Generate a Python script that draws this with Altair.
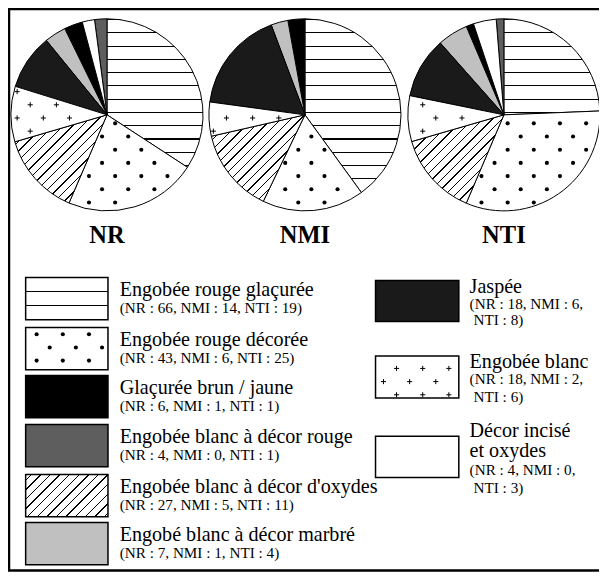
import math
import altair as alt
import pandas as pd

# ------------------------------------------------------------------ data
sites = ["NR", "NMI", "NTI"]
categories = [
    "Engobée rouge glaçurée",
    "Engobée rouge décorée",
    "Glaçurée brun / jaune",
    "Engobée blanc à décor rouge",
    "Engobée blanc à décor d'oxydes",
    "Engobé blanc à décor marbré",
    "Jaspée",
    "Engobée blanc",
    "Décor incisé et oxydes",
]
nr_counts = [66, 43, 6, 4, 27, 7, 18, 18, 4]
nmi_counts = [14, 6, 1, 0, 5, 1, 6, 2, 0]
nti_counts = [19, 25, 1, 1, 11, 4, 8, 6, 3]
# clockwise order of the slices, starting at 12 o'clock
pie_sequence = [
    "Engobée rouge glaçurée",
    "Engobée rouge décorée",
    "Engobée blanc à décor d'oxydes",
    "Engobée blanc",
    "Jaspée",
    "Engobé blanc à décor marbré",
    "Glaçurée brun / jaune",
    "Décor incisé et oxydes",
    "Engobée blanc à décor rouge",
]
left_legend = categories[:6]
right_legend = categories[6:]

counts = {"NR": nr_counts, "NMI": nmi_counts, "NTI": nti_counts}

# ------------------------------------------------------------------ styles
styles = {
    "Engobée rouge glaçurée": "hlines",
    "Engobée rouge décorée": "dots",
    "Glaçurée brun / jaune": "#000000",
    "Engobée blanc à décor rouge": "#5e5e5e",
    "Engobée blanc à décor d'oxydes": "hatch",
    "Engobé blanc à décor marbré": "#c0c0c0",
    "Jaspée": "#1a1a1a",
    "Engobée blanc": "crosses",
    "Décor incisé et oxydes": "#ffffff",
}

S = 0.98
W, H = 591, 565
FONT = "Liberation Serif"


def px(v):
    return (v - 5) * S + 1


def py(v):
    return (v - 5) * S + 1


LINE_Y0 = py(29.3)
LINE_DY = 13.55 * S
HATCH_D = 9.8 * S
LAT_HX = 13.35 * S
LAT_VY = 13.45 * S


def stops_from(ts, dt):
    stops = [{"offset": 0, "color": "white"}]
    last = 0.0
    for t in sorted(ts):
        a, b = t - dt / 2, t + dt / 2
        if b <= 0 or a >= 1:
            continue
        a = max(a, last)
        b = min(b, 1.0)
        if b <= a:
            continue
        stops += [
            {"offset": round(a, 5), "color": "white"},
            {"offset": round(a, 5), "color": "black"},
            {"offset": round(b, 5), "color": "black"},
            {"offset": round(b, 5), "color": "white"},
        ]
        last = b
    stops.append({"offset": 1, "color": "white"})
    return stops


def hline_grad(bb, line_ys=None, thick=1.1):
    x0, y0, x1, y1 = bb
    h = y1 - y0
    if line_ys is None:
        k0 = math.floor((y0 - LINE_Y0) / LINE_DY)
        k1 = math.ceil((y1 - LINE_Y0) / LINE_DY)
        line_ys = [LINE_Y0 + k * LINE_DY for k in range(k0, k1 + 1)]
    ts = [(ly - y0) / h for ly in line_ys]
    return {"gradient": "linear", "x1": 0, "y1": 0, "x2": 0, "y2": 1,
            "stops": stops_from(ts, thick / h)}


def hatch_grad(bb, thick=1.0):
    x0, y0, x1, y1 = bb
    w, h = x1 - x0, y1 - y0
    lam = (w + h) / (w * w + h * h)
    c0, c1 = x0 + y0, x1 + y1
    k0 = math.floor(c0 / HATCH_D)
    k1 = math.ceil(c1 / HATCH_D)
    ts = [(k * HATCH_D - c0) / (w + h) for k in range(k0, k1 + 1)]
    return {"gradient": "linear", "x1": 0, "y1": 0,
            "x2": round(lam * w, 5), "y2": round(lam * h, 5),
            "stops": stops_from(ts, thick * math.sqrt(2) / (w + h))}


def fill_for(style, bb, legend=False):
    if style == "hlines":
        if legend:
            y0, y1 = bb[1], bb[3]
            return hline_grad(bb, [y0 + (y1 - y0) / 3, y0 + 2 * (y1 - y0) / 3], 1.2)
        return hline_grad(bb)
    if style == "hatch":
        return hatch_grad(bb)
    if style in ("dots", "crosses"):
        return "white"
    return style


def slice_bbox(cx, cy, r, a0, a1):
    pts = [(cx, cy), (cx + r * math.sin(a0), cy - r * math.cos(a0)),
           (cx + r * math.sin(a1), cy - r * math.cos(a1))]
    for k in range(5):
        ang = k * math.pi / 2
        if a0 < ang < a1:
            pts.append((cx + r * math.sin(ang), cy - r * math.cos(ang)))
    xs = [p[0] for p in pts]
    ys = [p[1] for p in pts]
    return (min(xs), min(ys), max(xs), max(ys))


def lattice(ax, ay, x0, y0, x1, y1):
    pts = []
    k0 = math.floor((y0 - ay) / LAT_VY) - 1
    k1 = math.ceil((y1 - ay) / LAT_VY) + 1
    j0 = math.floor((x0 - ax) / LAT_HX) - 1
    j1 = math.ceil((x1 - ax) / LAT_HX) + 1
    for k in range(k0, k1 + 1):
        for j in range(j0, j1 + 1):
            if (j + k) % 2:
                continue
            pts.append((ax + j * LAT_HX, ay + k * LAT_VY))
    return pts


DOT_ANCHOR = (px(113.3), py(121.7))
CROSS_ANCHOR = (px(13.3), py(89.3))

texture = {"dots": [], "crosses": []}


def in_slice(p, cx, cy, r, a0, a1, m=2.5):
    dx, dy = p[0] - cx, p[1] - cy
    d = math.hypot(dx, dy)
    if d > r - m or d < 1e-6:
        return False
    th = math.atan2(dx, -dy) % (2 * math.pi)
    return (th - a0) * d >= m and (a1 - th) * d >= m


layers = []

# ------------------------------------------------------------------ pies
PIE_CX = [105, 307, 510]
PIE_CY = 113
PIE_R = 98
for site, pcx in zip(sites, PIE_CX):
    cx, cy, r = px(pcx), py(PIE_CY), PIE_R * S
    vals = counts[site]
    total = sum(vals)
    df = pd.DataFrame({"category": categories, "count": vals})
    df["rank"] = df["category"].map(pie_sequence.index)
    df = df[df["count"] > 0]
    conds = []
    a = 0.0
    for i, cat in enumerate(pie_sequence):
        v = vals[categories.index(cat)]
        a1 = a + 2 * math.pi * v / total
        if v > 0:
            st = styles[cat]
            bb = slice_bbox(cx, cy, r, a, a1)
            conds.append({"test": f"datum.rank === {i}", "value": fill_for(st, bb)})
            if st in ("dots", "crosses"):
                anc = DOT_ANCHOR if st == "dots" else CROSS_ANCHOR
                for p in lattice(anc[0], anc[1], *bb):
                    if in_slice(p, cx, cy, r, a, a1):
                        texture[st].append(p)
        a = a1
    arc = alt.Chart(df).mark_arc(stroke="black", strokeWidth=1).encode(
        theta=alt.Theta("count:Q", stack="normalize"),
        order=alt.Order("rank:Q", sort="ascending"),
        fill=alt.value("white", condition=conds),
        x=alt.value(cx),
        y=alt.value(cy),
        radius=alt.value(r),
    )
    layers.append(arc)
    lab = alt.Chart(pd.DataFrame({"site": [site]})).mark_text(
        font=FONT, fontSize=25 * S, fontWeight="bold", align="center", baseline="alphabetic",
        color="black").encode(x=alt.value(cx), y=alt.value(py(243.3)), text="site:N")
    layers.append(lab)


# ------------------------------------------------------------------ legend
def count_of(cat, site):
    return counts[site][categories.index(cat)]


def text_layer(s, x, y, size, weight="normal"):
    return alt.Chart(pd.DataFrame({"t": [s]})).mark_text(
        font=FONT, fontSize=size, fontWeight=weight, align="left", baseline="alphabetic",
        color="black").encode(x=alt.value(x), y=alt.value(y), text="t:N")


MAIN = 20.5 * S
SUB = 15.5 * S


def legend_rect(cat, x0, y0, x1, y1):
    bb = (px(x0), py(y0), px(x1), py(y1))
    st = styles[cat]
    fill = fill_for(st, bb, legend=True)
    rect = alt.Chart(pd.DataFrame({"category": [cat]})).mark_rect(
        stroke="black", strokeWidth=1.5).encode(
        x=alt.value(bb[0]), x2=alt.value(bb[2]), y=alt.value(bb[1]), y2=alt.value(bb[3]),
        fill=alt.value(fill))
    layers.append(rect)
    if st in ("dots", "crosses"):
        anc = DOT_ANCHOR if st == "dots" else CROSS_ANCHOR
        for p in lattice(anc[0], anc[1], *bb):
            if bb[0] + 2.5 <= p[0] <= bb[2] - 2.5 and bb[1] + 1.5 <= p[1] <= bb[3] - 1.5:
                texture[st].append(p)


left_tops = [279, 330, 379, 429, 480, 529]
for cat, top in zip(left_legend, left_tops):
    legend_rect(cat, 22, top, 106, top + 43)
    layers.append(text_layer(cat, px(118), py(top + 19), MAIN))
    sub = f"(NR : {count_of(cat, 'NR')}, NMI : {count_of(cat, 'NMI')}, NTI : {count_of(cat, 'NTI')})"
    layers.append(text_layer(sub, px(118), py(top + 36), SUB))

right_rects = [(282, 324), (359, 402), (441, 483)]
right_main_y = [[294.7], [371], [442, 462.5]]
right_sub_y = [(311, 327), (388, 406), (481, 498.5)]
for cat, (t, b), mys, (s1, s2) in zip(right_legend, right_rects, right_main_y, right_sub_y):
    legend_rect(cat, 379, t, 464, b)
    words = cat.split(" ")
    if len(mys) == 2:
        main_lines = [" ".join(words[:2]), " ".join(words[2:])]
    else:
        main_lines = [cat]
    for line, yy in zip(main_lines, mys):
        layers.append(text_layer(line, px(475), py(yy), MAIN))
    sub1 = f"(NR : {count_of(cat, 'NR')}, NMI : {count_of(cat, 'NMI')},"
    sub2 = f"NTI : {count_of(cat, 'NTI')})"
    layers.append(text_layer(sub1, px(475), py(s1), SUB))
    layers.append(text_layer(sub2, px(479), py(s2), SUB))

# ------------------------------------------------------------------ textures
xs = alt.Scale(domain=[0, W], range=[0, W], nice=False, zero=False)
ys = alt.Scale(domain=[0, H], range=[0, H], nice=False, zero=False)
dot_df = pd.DataFrame(texture["dots"], columns=["x", "y"])
cross_df = pd.DataFrame(texture["crosses"], columns=["x", "y"])
layers.append(alt.Chart(dot_df).mark_circle(size=17, color="black", opacity=1).encode(
    x=alt.X("x:Q", scale=xs, axis=None), y=alt.Y("y:Q", scale=ys, axis=None)))
layers.append(alt.Chart(cross_df).mark_point(
    shape="M-1,0L1,0M0,-1L0,1", filled=False, color="black", strokeWidth=1, size=26, opacity=1
).encode(x=alt.X("x:Q", scale=xs, axis=None), y=alt.Y("y:Q", scale=ys, axis=None)))

# ------------------------------------------------------------------ frame
frame_df = pd.DataFrame({"k": [0]})
layers.append(alt.Chart(frame_df).mark_rule(color="black", strokeWidth=2.5).encode(
    x=alt.value(1), y=alt.value(0), y2=alt.value(py(578))))
layers.append(alt.Chart(frame_df).mark_rule(color="black", strokeWidth=2.5).encode(
    x=alt.value(0), x2=alt.value(W), y=alt.value(1)))
layers.append(alt.Chart(frame_df).mark_rule(color="black", strokeWidth=2.5).encode(
    x=alt.value(0), x2=alt.value(W), y=alt.value(py(578))))

chart = alt.layer(*layers).properties(
    width=W, height=H, padding=0, autosize=alt.AutoSizeParams(type="none")
).resolve_scale(theta="independent").configure_view(stroke=None)

chart.save("out.html", embed_options={"renderer": "svg", "actions": False})
